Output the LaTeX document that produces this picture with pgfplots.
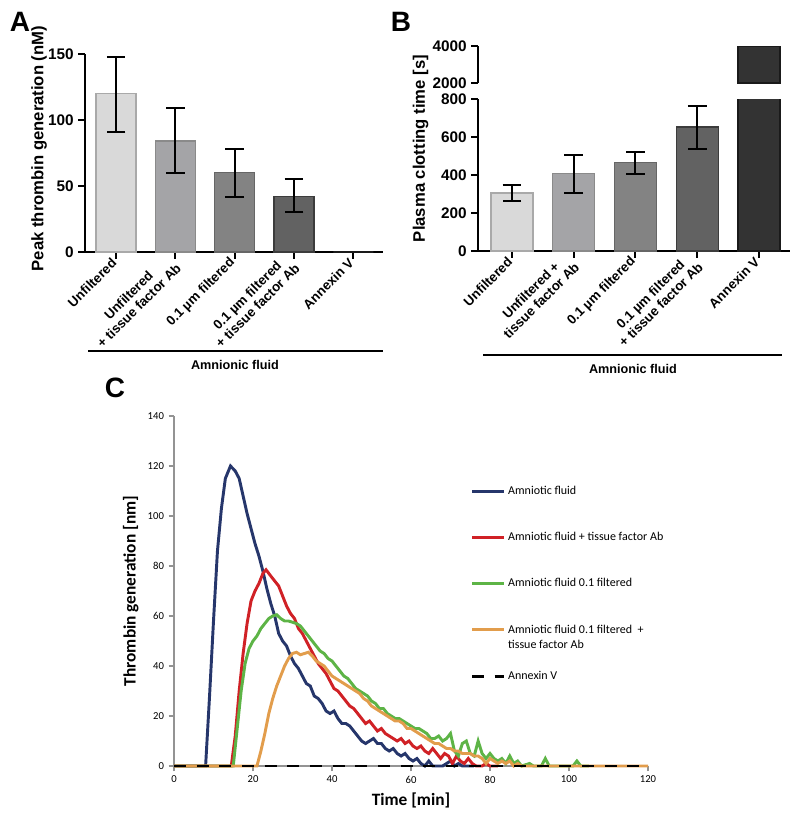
\documentclass[border=0pt]{standalone}
\usepackage{fontspec}
\setmainfont{Liberation Sans}
\newfontfamily\carlito{Carlito}
\usepackage{pgfplots}
\pgfplotsset{compat=1.18}
\definecolor{barA}{HTML}{D9D9D9}
\definecolor{barAe}{HTML}{A9A9A9}
\definecolor{barB}{HTML}{A4A4A7}
\definecolor{barBe}{HTML}{8A8A8A}
\definecolor{barC}{HTML}{838383}
\definecolor{barCe}{HTML}{666666}
\definecolor{barD}{HTML}{626262}
\definecolor{barDe}{HTML}{3C3C3C}
\definecolor{barE}{HTML}{333333}
\definecolor{barEe}{HTML}{1A1A1A}
\definecolor{cblue}{HTML}{26366B}
\definecolor{cred}{HTML}{D02126}
\definecolor{cgreen}{HTML}{5DB446}
\definecolor{corange}{HTML}{E29D4C}

\pgfplotsset{
  barpanel/.style={
    scale only axis,
    axis x line*=bottom, axis y line*=left,
    axis line style={line width=1.5pt},
    tick align=outside, major tick length=5pt,
    tick style={black, line width=1.5pt},
    ybar, bar shift=0pt,
    xtick={0,1,2,3,4},
    /pgf/number format/assume math mode=true,
    /pgf/number format/1000 sep={},
    yticklabel style={font=\bfseries\fontsize{11.5}{13}\selectfont},
    xticklabel style={rotate=45, anchor=east, align=center, inner sep=2pt,
      font=\bfseries\fontsize{10}{11}\selectfont},
  },
  errs/.style={
    error bars/.cd, y dir=both, y explicit,
    error bar style={black, line width=1.5pt},
    error mark options={rotate=90, mark size=7pt, black, line width=1.5pt},
  },
}

\begin{document}
\begin{tikzpicture}
\useasboundingbox (0,0) rectangle (600pt,-618pt);

% ---- panel A
\begin{axis}[barpanel,
  at={(63.75pt,-189pt)}, anchor=south west,
  width=223.5pt, height=148.5pt,
  xmin=-0.525, xmax=4.5, ymin=0, ymax=150,
  ytick={0,50,100,150},
  bar width=30pt,
  xticklabels={Unfiltered, {Unfiltered\\+ tissue factor Ab}, 0.1 µm filtered,
    {0.1 µm filtered\\+ tissue factor Ab}, Annexin V},
]
\addplot[fill=barA, draw=barAe, line width=1pt, errs] coordinates {(0,120) += (0,28) -= (0,29)};
\addplot[fill=barB, draw=barBe, line width=1pt, errs] coordinates {(1,84) += (0,25) -= (0,24)};
\addplot[fill=barC, draw=barCe, line width=1pt, errs] coordinates {(2,60) += (0,18) -= (0,18)};
\addplot[fill=barD, draw=barDe, line width=1pt, errs] coordinates {(3,42) += (0,13) -= (0,12)};
\addplot[fill=barE, draw=barEe, line width=1pt] coordinates {(4,0)};
\end{axis}

% ---- panel B, lower part
\begin{axis}[barpanel,
  at={(358.5pt,-188.25pt)}, anchor=south west,
  width=234pt, height=114pt,
  xmin=-0.548, xmax=4.5, ymin=0, ymax=800,
  ytick={0,200,400,600,800},
  bar width=31.5pt,
  xticklabels={Unfiltered, {Unfiltered +\\tissue factor Ab}, 0.1 µm filtered,
    {0.1 µm filtered\\+ tissue factor Ab}, Annexin V},
]
\addplot[fill=barA, draw=barAe, line width=1pt, errs] coordinates {(0,305) += (0,43) -= (0,43)};
\addplot[fill=barB, draw=barBe, line width=1pt, errs] coordinates {(1,408) += (0,97) -= (0,103)};
\addplot[fill=barC, draw=barCe, line width=1pt, errs] coordinates {(2,465) += (0,58) -= (0,62)};
\addplot[fill=barD, draw=barDe, line width=1pt, errs] coordinates {(3,652) += (0,113) -= (0,117)};
\addplot[fill=barE, draw=barEe, line width=1pt] coordinates {(4,4000)};
\end{axis}

% ---- panel B, upper part
\begin{axis}[barpanel,
  at={(358.5pt,-62.25pt)}, anchor=south west,
  width=234pt, height=27.75pt,
  axis x line=none,
  xmin=-0.548, xmax=4.5, ymin=2000, ymax=4000,
  ytick={2000,4000},
  bar width=31.5pt,
]
\addplot[fill=barE, draw=barEe, line width=1pt] coordinates {(4,4000)};
\end{axis}

% ---- panel C
\begin{axis}[
  at={(130.5pt,-574.5pt)}, anchor=south west,
  scale only axis, width=355.5pt, height=262.5pt,
  xmin=0, xmax=120, ymin=0, ymax=140,
  axis x line*=bottom, axis y line*=left,
  axis line style={gray!85, line width=0.8pt},
  tick style={gray!85, line width=0.8pt},
  tick align=outside, major tick length=4pt,
  xtick={0,20,...,120}, ytick={0,20,...,140},
  /pgf/number format/assume math mode=true,
  ticklabel style={font=\carlito\fontsize{8}{9}\selectfont},
  xlabel={Time [min]}, ylabel={Thrombin generation [nm]},
  label style={font=\carlito\bfseries\fontsize{13}{15}\selectfont},
  clip=false,
  legend style={at={(axis cs:74,114)}, anchor=north west, draw=none, fill=none,
    font=\carlito\fontsize{9}{11}\selectfont, row sep=22.5pt,
    cells={anchor=west, align=left}},
  legend image code/.code={\draw[#1] (0pt,0pt) -- (24pt,0pt);},
]
\addplot[cblue, line width=2.2pt] coordinates {
(0,0)(8,0)(9,28)(10,58)(11,86)(12,103)(13,115)(14.3,120)(15.5,118)(16.5,115)
(17.5,108)(18.5,101)(19.5,95)(20.5,89)(21.5,84)(22.5,78)(23.5,71)(24.5,65)
(25.5,60)(26.5,53)(27.5,50)(28.5,48)(29.5,44)(30.5,41)(31.5,39)(32.5,36)
(33.5,33)(34.5,32)(35.5,28)(36.5,27)(37.5,25)(38.5,22)(39.5,21)(40.5,22)
(41.5,19)(42.5,17)(43.5,17)(44.5,16)(45.5,14)(46.5,12)(47.5,10)(48.5,9)
(49.5,10)(50.5,11)(51.5,9)(52.5,9)(53.5,7)(54.5,6)(55.5,7)(56.5,5)(57.5,4)
(58.5,5)(59.5,3)(60.5,2)(61.5,3)(62.5,1)(63.5,0)(64.5,2)(65.5,0)(68,0)
(69,1)(70,2)(71,0)(72,1)(73,0)(76,0)};
\addlegendentry{Amniotic fluid}
\addplot[cred, line width=2.2pt] coordinates {
(0,0)(14.5,0)(15.5,12)(16.5,30)(17.5,45)(18.5,57)(19.5,66)(20.5,70)(21.5,73)
(22.5,77)(23.3,78.5)(24.5,76)(25.5,74)(26.5,72)(27.5,68)(28.5,64)(29.5,61)
(30.5,59)(31.5,55)(32.5,53)(33.5,50)(34.5,47)(35.5,44)(36.5,41)(37.5,39)
(38.5,37)(39.5,34)(40.5,31)(41.5,30)(42.5,28)(43.5,26)(44.5,24)(45.5,23)
(46.5,21)(47.5,19)(48.5,17)(49.5,18)(50.5,16)(51.5,14)(52.5,15)(53.5,13)
(54.5,12)(55.5,11)(56.5,10)(57.5,11)(58.5,9)(59.5,10)(60.5,8)(61.5,7)
(62.5,8)(63.5,6)(64.5,5)(65.5,7)(66.5,5)(67.5,3)(68.5,5)(69.5,4)(70.5,1)
(71.5,4)(72.5,2)(73.5,1)(74.5,3)(75.5,1)(76.5,0)(78,0)(79,1)(80,0)(82,0)};
\addlegendentry{Amniotic fluid + tissue factor Ab}
\addplot[cgreen, line width=2.2pt] coordinates {
(0,0)(15,0)(16,15)(17,30)(18,41)(19,47)(20,50)(21,52)(22,55)(23,57)(24,59)
(25,60)(26,60.5)(27,59)(28,58)(29,58)(30,57.5)(31,57)(32,56)(33,54)(34,52)
(35,50)(36,48)(37,46)(38,45)(39,43)(40,42)(41,40)(42,38)(43,36)(44,35)
(45,33)(46,31)(47,30)(48,29)(49,28)(50,26)(51,25)(52,23)(53,23)(54,21)
(55,20)(56,19)(57,19)(58,18)(59,17)(60,16)(61,15)(62,15)(63,14)(64,13)
(65,11)(66,11)(67,12)(68,10)(69,11)(70,13)(71,6)(72,4)(73,9)(74,10)(75,5)
(76,4)(77,10)(78,5)(79,3)(80,5)(81,3)(82,2)(83,3)(84,1)(85,4)(86,1)(87,2)
(88,0)(90,1)(91,0)(93,0)(94,3)(95,0)(101,0)(102,2)(103,0)(105,0)};
\addlegendentry{Amniotic fluid 0.1 filtered}
\addplot[corange, line width=2.2pt] coordinates {
(0,0)(21,0)(22,6)(23,13)(24,21)(25,27)(26,32)(27,36)(28,40)(29,43)(30,45)
(31,45.5)(32,44.5)(33,45)(34,45.5)(35,44)(36,42)(37,41)(38,40)(39,38)(40,36)
(41,35)(42,34)(43,33)(44,32)(45,31)(46,30)(47,29)(48,27)(49,26)(50,24)
(51,23)(52,22)(53,21)(54,20)(55,19)(56,18)(57,18)(58,17)(59,15)(60,15)
(61,14)(62,13)(63,12)(64,11)(65,10)(66,9)(67,9)(68,8)(69,7)(70,7)(71,6)
(72,6)(73,5)(74,5)(75,5)(76,4)(77,4)(78,3)(79,1)(80,3)(81,2)(82,1)(83,2)
(84,1)(85,2)(86,0)(87,1)(88,0)(120,0)};
\addlegendentry{\raisebox{0pt}[\height][0pt]{\begin{tabular}[t]{@{}l@{}}Amniotic fluid 0.1 filtered~ +\\tissue factor Ab\end{tabular}}}
\addplot[black, line width=2.2pt, dash pattern=on 9pt off 8pt] coordinates {
(0,0)(120,0)};
\addlegendentry{Annexin V}
\end{axis}

% ---- panel letters, axis titles, group lines
\node[font=\bfseries\fontsize{21}{24}\selectfont] at (15pt,-16.5pt) {A};
\node[font=\bfseries\fontsize{21}{24}\selectfont] at (300.75pt,-16.5pt) {B};
\node[font=\bfseries\fontsize{21}{24}\selectfont] at (86.25pt,-291pt) {C};
\node[rotate=90, font=\bfseries\fontsize{12.5}{14}\selectfont] at (29.25pt,-111.4pt) {Peak thrombin generation (nM)};
\node[rotate=90, font=\bfseries\fontsize{12.5}{14}\selectfont] at (315.4pt,-111.4pt) {Plasma clotting time [s]};
\draw[line width=1.5pt] (66pt,-263.25pt) -- (287.25pt,-263.25pt);
\draw[line width=1.5pt] (362.25pt,-266.25pt) -- (586.5pt,-266.25pt);
\node[font=\bfseries\fontsize{9.5}{11}\selectfont] at (176.25pt,-273.75pt) {Amnionic fluid};
\node[font=\bfseries\fontsize{9.5}{11}\selectfont] at (474.75pt,-276.75pt) {Amnionic fluid};
\end{tikzpicture}
\end{document}
